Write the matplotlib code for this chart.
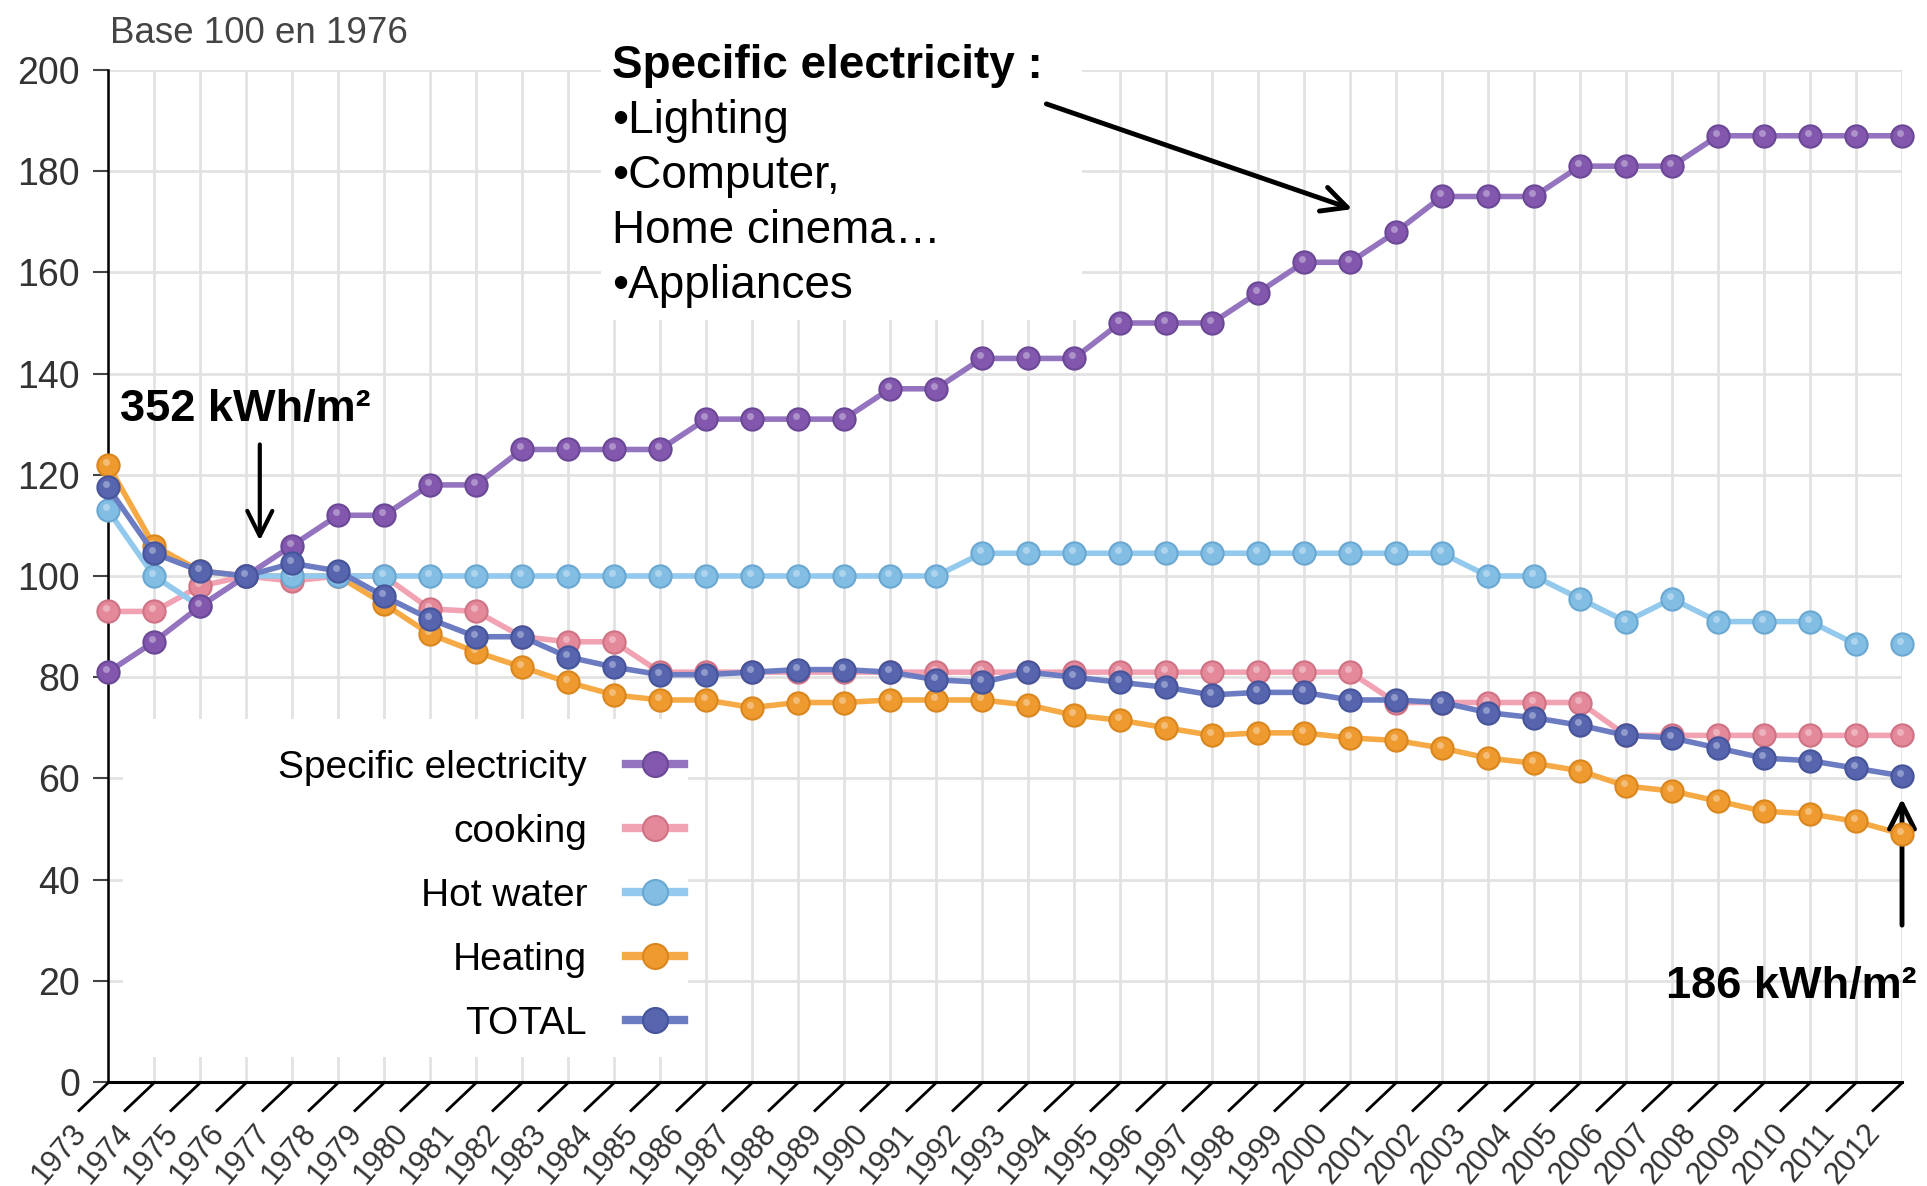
import matplotlib
matplotlib.use("Agg")
import matplotlib.pyplot as plt
import matplotlib.transforms as mtransforms
from matplotlib.path import Path
from matplotlib.patches import Rectangle
from matplotlib.lines import Line2D

plt.rcParams['font.family'] = ['Liberation Sans', 'DejaVu Sans']

# --- data (index base 100 in 1976) ---
years = list(range(1973, 2013))
specific = [81, 87, 94, 100, 106, 112, 112, 118, 118, 125, 125, 125, 125,
            131, 131, 131, 131, 137, 137, 143, 143, 143, 150, 150, 150, 156,
            162, 162, 168, 175, 175, 175, 181, 181, 181, 187, 187, 187, 187, 187]
cooking = [93, 93, 98, 100, 99, 100, 100, 93.5, 93, 88, 87, 87,
           81, 81, 81, 81, 81, 81, 81, 81, 81, 81, 81, 81, 81, 81, 81, 81,
           75, 75, 75, 75, 75, 68.5, 68.5, 68.5, 68.5, 68.5, 68.5, 68.5]
hot_water = [113, 100, 94, 100, 100, 100, 100, 100, 100, 100, 100, 100, 100,
             100, 100, 100, 100, 100, 100, 104.5, 104.5, 104.5, 104.5, 104.5,
             104.5, 104.5, 104.5, 104.5, 104.5, 104.5, 100, 100, 95.5, 91,
             95.5, 91, 91, 91, 86.5, 86.5]
heating = [122, 106, 101, 100, 100, 100, 94.5, 88.5, 85, 82, 79, 76.5, 75.5,
           75.5, 74, 75, 75, 75.5, 75.5, 75.5, 74.5, 72.5, 71.5, 70, 68.5, 69,
           69, 68, 67.5, 66, 64, 63, 61.5, 58.5, 57.5, 55.5, 53.5, 53, 51.5, 49]
total = [117.5, 104.5, 101, 100, 102.5, 101, 96, 91.5, 88, 88, 84, 82, 80.5,
         80.5, 81, 81.5, 81.5, 81, 79.5, 79, 81, 80, 79, 78, 76.5, 77, 77,
         75.5, 75.5, 75, 73, 72, 70.5, 68.5, 68, 66, 64, 63.5, 62, 60.5]

labels = ["Specific electricity", "cooking", "Hot water", "Heating", "TOTAL"]
line_colors = ["#9473bf", "#f2a3b3", "#92c9ec", "#f5aa45", "#6c7cc2"]
face_colors = ["#8257ad", "#e3899a", "#82bde3", "#ee9a2f", "#5665ae"]
edge_colors = ["#6b4896", "#cf7284", "#6aa8d2", "#d9861f", "#46549a"]
values = [specific, cooking, hot_water, heating, total]
zorders = [6, 4, 5, 3, 7]

fig = plt.figure(figsize=(19.27, 11.86), dpi=100)
ax = fig.add_axes([108 / 1927, 1 - 1082 / 1186, 1794 / 1927, 1012 / 1186])

ax.set_xlim(1973, 2012)
ax.set_ylim(0, 200)
ax.grid(True, color="#e2e2e2", lw=2)

# small shine on the balls
shine = mtransforms.ScaledTranslation(-0.025, 0.03, fig.dpi_scale_trans)

for lab, vals, lc, fc, ec, z in zip(labels, values, line_colors, face_colors,
                                    edge_colors, zorders):
    if lab == "Hot water":
        # no segment between the last two points in the source chart
        ax.plot(years[:-1], vals[:-1], color=lc, lw=4, zorder=z, clip_on=False)
    else:
        ax.plot(years, vals, color=lc, lw=4, zorder=z, clip_on=False)
    ax.plot(years, vals, ls="none", marker="o", ms=16, mfc=fc, mec=ec,
            mew=1.5, zorder=z + 0.1, clip_on=False)
    ax.plot(years, vals, ls="none", marker="o", ms=5, mfc="white", mec="none",
            alpha=0.35, zorder=z + 0.2, clip_on=False,
            transform=ax.transData + shine)

# white panels behind the legend and the text block
ax.add_patch(Rectangle((0.0084, 0.0247), 0.315, 0.334, transform=ax.transAxes,
                       facecolor="white", edgecolor="none", zorder=2))
ax.add_patch(Rectangle((0.275, 0.753), 0.268, 0.27, transform=ax.transAxes,
                       facecolor="white", edgecolor="none", zorder=2,
                       clip_on=False))

# axes look
for s in ["top", "right"]:
    ax.spines[s].set_visible(False)
ax.spines["left"].set_linewidth(1.8)
ax.spines["bottom"].set_linewidth(2.2)
ax.set_yticks(range(0, 201, 20))
ax.tick_params(axis="y", length=11, width=1.5, color="#444", labelsize=27,
               labelcolor="#333", pad=9)

ax.set_xticks(years)
ax.set_xticklabels([str(y) for y in years], rotation=50, ha="right", va="top",
                   rotation_mode="anchor", fontsize=22, color="#333")
ax.tick_params(axis="x", length=0, pad=0)
shift = mtransforms.ScaledTranslation(-0.38, -0.36, fig.dpi_scale_trans)
for t in ax.get_xticklabels():
    t.set_transform(t.get_transform() + shift)

# slanted tick marks under the x axis
tick_path = Path([(0, 0), (-1, -0.95)])
ax.plot(years, [0] * len(years), ls="none", marker=tick_path, ms=44,
        mec="black", mew=2, clip_on=False, zorder=10)

# legend
handles = [Line2D([], [], color=lc, lw=6, marker="o", ms=18, mfc=fc, mec=ec,
                  mew=1.5) for lc, fc, ec in zip(line_colors, face_colors,
                                                  edge_colors)]
ax.legend(handles, labels, loc="upper right",
          bbox_to_anchor=(700 / 1927, 1 - 734 / 1186),
          bbox_transform=fig.transFigure, frameon=False, markerfirst=False,
          fontsize=28, handlelength=1.5, handletextpad=1.0, labelspacing=0.72,
          borderaxespad=0, borderpad=0.4)

# texts
fig.text(110 / 1927, 1 - 43 / 1186, "Base 100 en 1976", fontsize=26.5,
         color="#444", va="baseline")
fig.text(612 / 1927, 1 - 78 / 1186, "Specific electricity :", fontsize=33,
         fontweight="bold", va="baseline")
for txt, b in zip(["•Lighting", "•Computer,", "Home cinema…", "•Appliances"],
                  [133, 188, 243, 298]):
    fig.text(612 / 1927, 1 - b / 1186, txt, fontsize=33, va="baseline")

ax.text(1973.26, 130.6, "352 kWh/m²", fontsize=32.5, fontweight="bold",
        va="baseline", zorder=12)
ax.text(2012.31, 16.6, "186 kWh/m²", fontsize=32.5, fontweight="bold",
        ha="right", va="baseline", zorder=12, clip_on=False)

arrow = dict(arrowstyle="->,head_length=0.9,head_width=0.45", lw=3.5,
             color="black", shrinkA=0, shrinkB=0, mutation_scale=20)
ax.annotate("", xy=(2000.05, 172.5), xytext=(1993.4, 193.3),
            arrowprops=arrow, annotation_clip=False)
ax.annotate("", xy=(1976.3, 107), xytext=(1976.3, 126),
            arrowprops=dict(arrow, lw=3), annotation_clip=False)
ax.annotate("", xy=(2012.0, 56), xytext=(2012.0, 31),
            arrowprops=dict(arrow, lw=3.5), annotation_clip=False)

fig.savefig("out.png", dpi=100)
